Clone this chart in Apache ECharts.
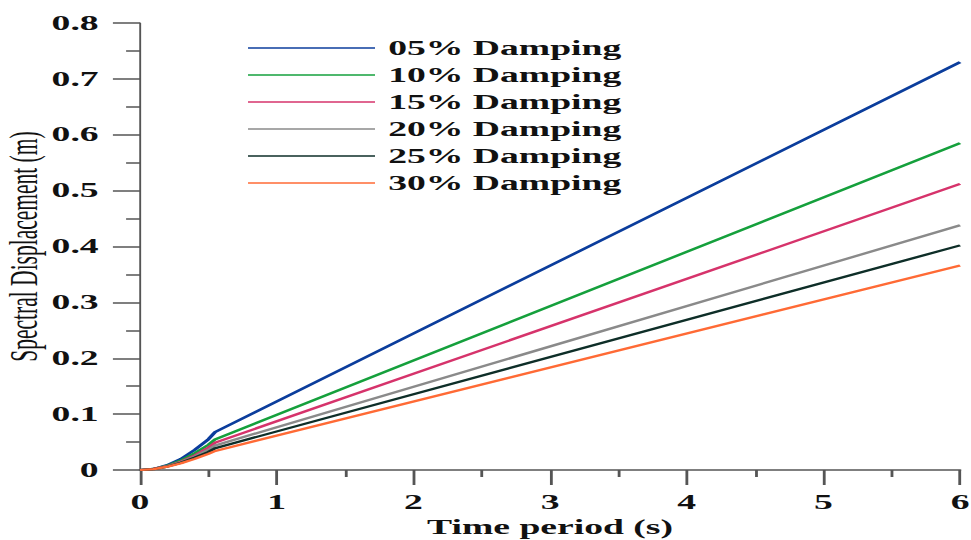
<!DOCTYPE html>
<html>
<head>
<meta charset="utf-8">
<script src="https://cdn.jsdelivr.net/npm/echarts@6/dist/echarts.min.js"></script>
<style>
  html, body { margin: 0; padding: 0; background: #ffffff; overflow: hidden; }
  #wrap { width: 971px; height: 540px; overflow: hidden; }
  #chart { width: 516px; height: 540px; transform: scaleX(1.8818); transform-origin: 0 0; }
</style>
</head>
<body>
<div id="wrap"><div id="chart"></div></div>
<script>
// Time periods (s)
const periods = [0, 0.1, 0.2, 0.3, 0.4, 0.5, 0.55, 6];
// Spectral displacement (m) per damping ratio
const damp05 = [0, 0.002, 0.009, 0.020, 0.036, 0.055, 0.068, 0.730];
const damp10 = [0, 0.002, 0.008, 0.017, 0.030, 0.045, 0.055, 0.585];
const damp15 = [0, 0.002, 0.007, 0.015, 0.026, 0.040, 0.049, 0.512];
const damp20 = [0, 0.0015, 0.0065, 0.014, 0.024, 0.036, 0.044, 0.438];
const damp25 = [0, 0.0015, 0.006, 0.013, 0.022, 0.032, 0.039, 0.402];
const damp30 = [0, 0.0015, 0.006, 0.012, 0.020, 0.029, 0.034, 0.366];
const seriesNames = ['05% Damping', '10% Damping', '15% Damping', '20% Damping', '25% Damping', '30% Damping'];
const seriesColors = ['#0b3d9c', '#15a03c', '#d6336b', '#8a8a8a', '#0e2e28', '#ff6a35'];
const xTicks = [0, 1, 2, 3, 4, 5, 6];
const yTicks = [0, 0.1, 0.2, 0.3, 0.4, 0.5, 0.6, 0.7, 0.8];

const allValues = [damp05, damp10, damp15, damp20, damp25, damp30];
const font = '"Liberation Serif", "Times New Roman", serif';

const chart = echarts.init(document.getElementById('chart'), null, { renderer: 'svg' });
chart.setOption({
  animation: false,
  backgroundColor: '#ffffff',
  grid: { left: 74.4, right: 5.8, top: 23, bottom: 70, containLabel: false, outerBoundsMode: 'none' },
  legend: {
    orient: 'vertical',
    left: 131.8,
    top: 38,
    padding: 0,
    itemWidth: 67.5,
    itemHeight: 14,
    itemGap: 7,
    icon: 'path://M0,6 L100,6 L100,8 L0,8 Z',
    data: seriesNames,
    textStyle: { fontFamily: font, fontWeight: 'bold', fontSize: 20, lineHeight: 20, color: '#111', padding: [0, 0, 0, 2] }
  },
  xAxis: {
    type: 'value',
    min: xTicks[0],
    max: xTicks[xTicks.length - 1],
    interval: 1,
    name: 'Time period (s)',
    nameLocation: 'middle',
    nameGap: 47,
    nameMoveOverlap: false,
    nameTextStyle: { fontFamily: font, fontWeight: 'bold', fontSize: 20, color: '#111' },
    axisLine: { show: true, onZero: false, lineStyle: { color: '#555', width: 1.5 } },
    axisTick: { show: true, inside: false, length: 15, lineStyle: { color: '#555', width: 1.5 } },
    minorTick: { show: true, splitNumber: 2, length: 7, lineStyle: { color: '#555', width: 1.5 } },
    splitLine: { show: false },
    axisLabel: { margin: 22, fontFamily: font, fontWeight: 'bold', fontSize: 20, color: '#111' }
  },
  yAxis: {
    type: 'value',
    min: yTicks[0],
    max: yTicks[yTicks.length - 1],
    interval: 0.1,
    name: 'Spectral Displacement (m)',
    nameLocation: 'middle',
    nameGap: 51,
    nameMoveOverlap: false,
    nameTextStyle: { fontFamily: font, fontSize: 21.5, color: '#111' },
    axisLine: { show: true, lineStyle: { color: '#555', width: 1 } },
    axisTick: { show: true, inside: false, length: 14.4, lineStyle: { color: '#555', width: 1.5 } },
    minorTick: { show: true, splitNumber: 2, length: 7.4, lineStyle: { color: '#555', width: 1.5 } },
    splitLine: { show: false },
    axisLabel: {
      margin: 22, fontFamily: font, fontWeight: 'bold', fontSize: 20, color: '#111',
      formatter: function (v) { return v === 0 ? '0' : v.toFixed(1); }
    }
  },
  series: seriesNames.map(function (name, i) {
    return {
      name: name,
      type: 'line',
      symbol: 'none',
      smooth: false,
      color: seriesColors[i],
      lineStyle: { color: seriesColors[i], width: 2.2 },
      data: periods.map(function (t, j) { return [t, allValues[i][j]]; })
    };
  })
});
</script>
</body>
</html>
